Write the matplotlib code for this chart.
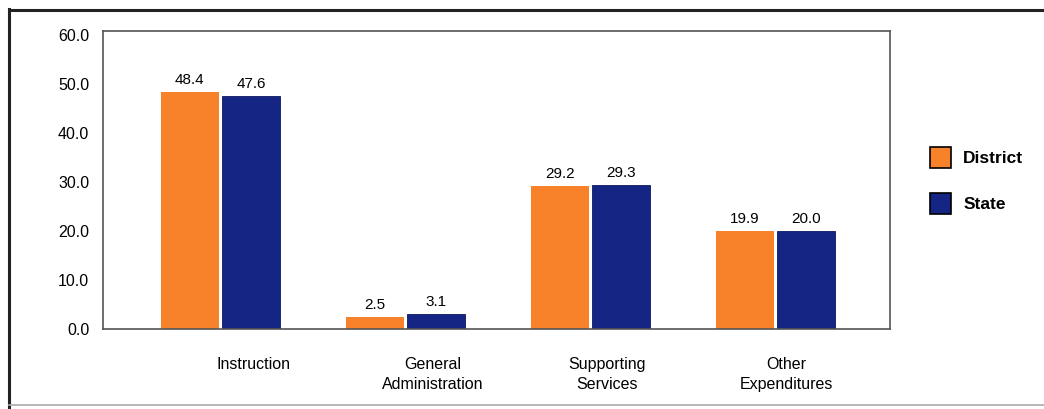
import numpy as np
import matplotlib
matplotlib.use("Agg")
import matplotlib.pyplot as plt
from matplotlib.lines import Line2D
from matplotlib.patches import Patch

# Expenditure share by category (percent)
categories = ["Instruction", "General\nAdministration", "Supporting\nServices", "Other\nExpenditures"]
district = [48.4, 2.5, 29.2, 19.9]
state = [47.6, 3.1, 29.3, 20.0]
yticks = [0, 10, 20, 30, 40, 50, 60]

orange = "#F7822A"
navy = "#142583"

plt.rcParams["font.family"] = ["Liberation Sans", "DejaVu Sans"]

fig = plt.figure(figsize=(10.44, 4.09), dpi=100)
ax = fig.add_axes([0.0987, 0.196, 0.7538, 0.728])

x = np.arange(len(categories))
w = 0.315
b1 = ax.bar(x - w / 2 - 0.008, district, w, color=orange, linewidth=0)
b2 = ax.bar(x + w / 2 + 0.008, state, w, color=navy, edgecolor="#0b1660", linewidth=0.6)

for bars, vals in ((b1, district), (b2, state)):
    for r, v in zip(bars, vals):
        ax.text(r.get_x() + r.get_width() / 2, v + 1.0, f"{v:.1f}",
                ha="center", va="bottom", fontsize=11)

ax.set_xlim(-0.635, 3.62)
ax.set_ylim(0, 60.8)
ax.set_yticks(yticks)
ax.set_yticklabels([f"{t:.1f}" for t in yticks], fontsize=11.5)
ax.tick_params(axis="y", length=0, pad=10)

# category labels sit slightly right of the bar groups
label_shift = [0.18, 0.145, 0.09, 0.06]
ax.set_xticks(x + np.array(label_shift))
ax.set_xticklabels(categories, fontsize=11.5, linespacing=1.45)
ax.tick_params(axis="x", length=0, pad=20)

for s in ax.spines.values():
    s.set_color("#555555")
    s.set_linewidth(1.2)

handles = [Patch(facecolor=orange, edgecolor="black", linewidth=1.2),
           Patch(facecolor=navy, edgecolor="black", linewidth=1.2)]
leg = fig.legend(handles, ["District", "State"], loc="upper left",
                 bbox_to_anchor=(0.876, 0.68), frameon=False,
                 handlelength=1.2, handleheight=1.5, handletextpad=0.7,
                 labelspacing=1.45,
                 prop={"family": ["Liberation Sans Narrow", "Liberation Sans"],
                       "weight": "bold", "size": 12.5})

# outer panel border
fig.add_artist(Line2D([0.0086, 0.0086], [0.0, 0.978], color="#222222", lw=2.2))
fig.add_artist(Line2D([0.0086, 1.0], [0.976, 0.976], color="#222222", lw=2.2))
fig.add_artist(Line2D([0.0086, 1.0], [0.01, 0.01], color="#aaaaaa", lw=1.2))

fig.savefig("out.png", dpi=100)
